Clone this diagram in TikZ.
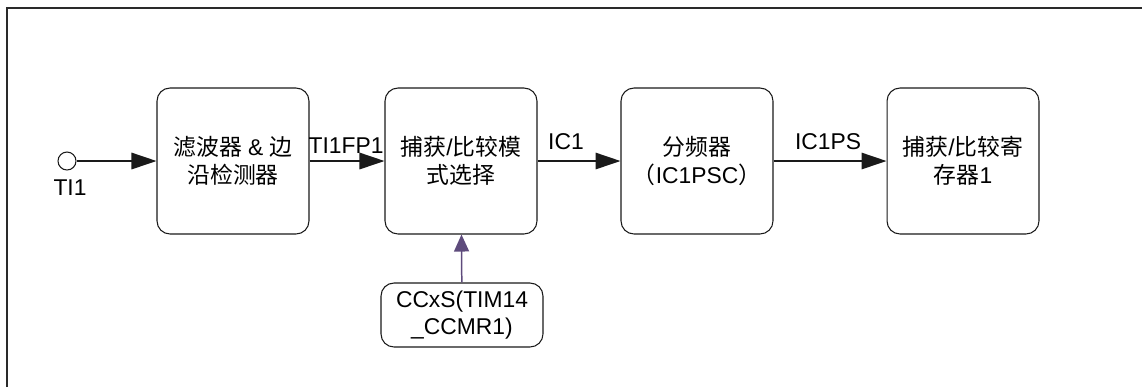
\documentclass[tikz,border=0pt]{standalone}
\usepackage{fontspec}
\usepackage{tikz}
\usetikzlibrary{arrows.meta,positioning,shapes}
\setmainfont{Liberation Sans}
\newfontfamily\cjk{Noto Sans CJK SC}
\newcommand{\zh}[1]{{\cjk #1}}
\definecolor{ink}{HTML}{1A1A1A}
\definecolor{frameink}{HTML}{2A2A2A}
\definecolor{ctlpurple}{HTML}{5E4B7C}
\tikzset{
  stagebox/.style={draw=ink,fill=white,line width=0.6pt,rounded corners=0.26cm,
                   minimum width=3.04cm,minimum height=2.92cm,
                   align=center,font=\fontsize{13}{16}\selectfont,inner sep=2pt},
  ctlbox/.style={draw=ink,fill=white,line width=0.6pt,rounded corners=0.26cm,
                 minimum width=3.24cm,minimum height=1.28cm,
                 align=center,font=\fontsize{13}{15.5}\selectfont,inner sep=2pt},
  sigtext/.style={font=\fontsize{13}{15}\selectfont,inner sep=0pt},
  flowarr/.style={-{Triangle[length=5mm,width=3.3mm]},line width=0.85pt,color=ink},
  ctlarr/.style={-{Triangle[length=3.4mm,width=3mm]},line width=0.85pt,color=ctlpurple}
}

\begin{document}
\begin{tikzpicture}[x=0.02cm,y=-0.02cm]
  \useasboundingbox (0,0) rectangle (1142,387);
  % ---- frame (only top and left edges inside the page) ----
  \draw[frameink,line width=0.9pt] (7,387) -- (7,8) -- (1142,8);
  % ---- input pin ----
  \node[circle,draw=ink,fill=white,line width=0.6pt,minimum size=0.36cm,inner sep=0pt] (ti) at (67,161) {};
  \node[sigtext] (tilbl) at (70,188) {TI1};
  % ---- stages ----
  \node[stagebox] (filt)   at (233,161) {\zh{滤波器} \& \zh{边}\\\zh{沿检测器}};
  \node[stagebox] (capsel) at (461,161) {\zh{捕获}/\zh{比较模}\\\zh{式选择}};
  \node[stagebox] (presc)  at (697,161) {\zh{分频器}\\\zh{（}IC1PSC\zh{）}};
  \node[stagebox] (capreg) at (963,161) {\zh{捕获}/\zh{比较寄}\\\zh{存器}1};
  \node[ctlbox]   (ccxs)   at (462,315) {CCxS(TIM14\\\_CCMR1)};
  % ---- connectors ----
  \draw[flowarr] (ti) -- (filt);
  \draw[flowarr] (filt) -- (capsel);
  \draw[flowarr] (capsel) -- (presc);
  \draw[flowarr] (presc) -- (capreg);
  \draw[ctlarr] (ccxs) -- (capsel);
  % ---- signal names ----
  \node[sigtext] (fp1lbl) at (346,146) {TI1FP1};
  \node[sigtext] (ic1lbl) at (566,142) {IC1};
  \node[sigtext] (pslbl)  at (828,142) {IC1PS};
\end{tikzpicture}
\end{document}
